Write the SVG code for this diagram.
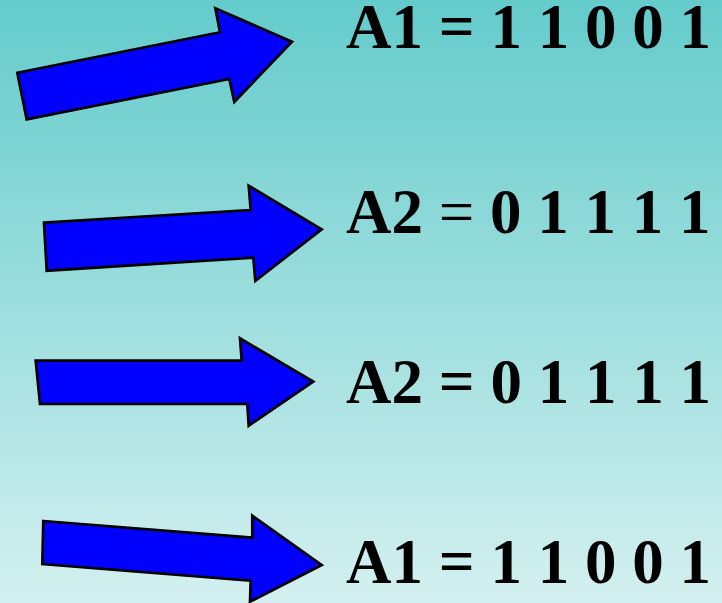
<svg xmlns="http://www.w3.org/2000/svg" width="722" height="603" viewBox="0 0 722 603">
<defs>
<linearGradient id="bg" x1="0" y1="0" x2="0" y2="1">
<stop offset="0" stop-color="#64cbcb"/>
<stop offset="1" stop-color="#d4f0f0"/>
</linearGradient>
<style>
.arrow{fill:#0000ff;stroke:#000;stroke-width:2.7;stroke-linejoin:miter}
.lbl{font-family:"Liberation Serif","Times New Roman",serif;font-size:63px;font-weight:bold;fill:#000}
.reg{font-weight:normal}
</style>
</defs>
<rect width="722" height="603" fill="url(#bg)"/>
<g id="connectors">
<polygon id="arrow1" class="arrow" points="17.3,72.7 220,32.3 215.3,8.3 292,41.7 234.3,102 229.3,79 26.7,119.3"/>
<polygon id="arrow2" class="arrow" points="44,222.7 250.7,210 248.7,185.7 321.7,229.3 255.3,281 253.3,257.7 46.7,270.7"/>
<polygon id="arrow3" class="arrow" points="35.7,360.7 241.7,360.7 240,338.3 313.3,381.7 248.7,425.7 247.3,404 40,404"/>
<polygon id="arrow4" class="arrow" points="43.3,521 252.3,537.7 252.3,515.7 321.7,565 250,601.7 250.7,580.7 42.3,564"/>
</g>
<g id="node1"><text class="lbl" x="346" y="48">A1 = 1 1 0 0 1</text></g>
<g id="node2"><text class="lbl" x="346" y="233">A2 <tspan class="reg">=</tspan> 0 1 1 1 1</text></g>
<g id="node3"><text class="lbl" x="346" y="403">A2 = 0 1 1 1 1</text></g>
<g id="node4"><text class="lbl" x="346" y="583">A1 = 1 1 0 0 1</text></g>
</svg>
